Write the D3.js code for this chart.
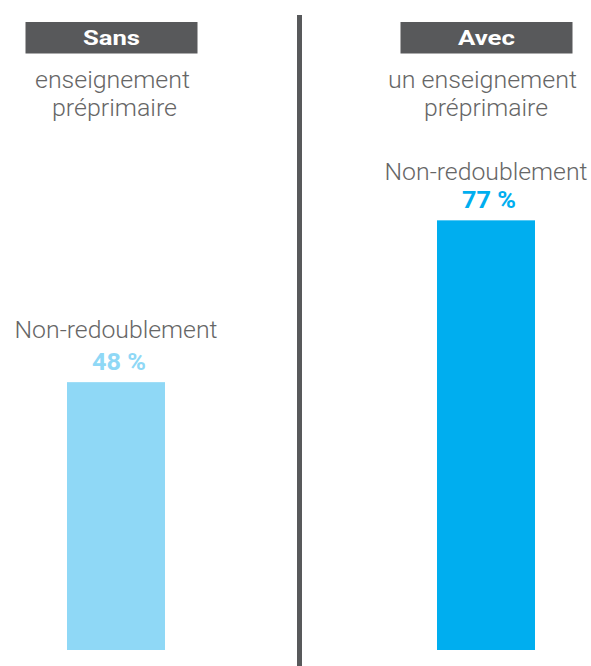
<!DOCTYPE html>
<html><head><meta charset="utf-8">
<script src="https://cdn.jsdelivr.net/npm/d3@7"></script>
<style>body{margin:0;background:#fff}svg{display:block}</style>
</head><body>
<script>
const groups = ["Sans", "Avec"];
const subtitles = [["enseignement", "préprimaire"], ["un enseignement", "préprimaire"]];
const labels = ["Non-redoublement", "Non-redoublement"];
const values = [48, 77];
const colors = ["#8fd8f6", "#00aeef"];

const W = 591, H = 666;
const svg = d3.select("body").append("svg").attr("width", W).attr("height", H);
const font = "Roboto, 'Liberation Sans', sans-serif";

// layout
const x = d3.scaleBand().domain(groups).range([-69, 671]);
const barW = 98;
const y = d3.scaleLinear().domain([0, 100]).range([650, 92]);
const headerCx = [111.5, 486.5];
const subCx = [[112.5, 114.5], [482.5, 486]];
const subW = [[155, 125], [189, 124]];
const labelGap = [44, 40];

function fitText(sel, w) {
  sel.attr("textLength", w).attr("lengthAdjust", "spacingAndGlyphs");
  return sel;
}

// divider
svg.append("rect").attr("x", 297).attr("y", 15).attr("width", 5).attr("height", H - 15).attr("fill", "#58595b");

groups.forEach((g, i) => {
  const cx = x(g) + x.bandwidth() / 2;
  const hc = headerCx[i];
  svg.append("rect").attr("x", hc - 86).attr("y", 22).attr("width", 172).attr("height", 31.5).attr("fill", "#58595b");
  fitText(svg.append("text").attr("x", hc).attr("y", 45).attr("text-anchor", "middle")
    .attr("font-family", font).attr("font-weight", 700).attr("font-size", 21).attr("fill", "#fff").text(g), 57);
  subtitles[i].forEach((s, j) => {
    fitText(svg.append("text").attr("x", subCx[i][j]).attr("y", 88 + j * 28).attr("text-anchor", "middle")
      .attr("font-family", font).attr("font-weight", 300).attr("font-size", 23).attr("fill", "#666").text(s), subW[i][j]);
  });
  const v = values[i];
  svg.append("rect").attr("x", cx - barW / 2).attr("y", y(v)).attr("width", barW).attr("height", y(0) - y(v)).attr("fill", colors[i]);
  fitText(svg.append("text").attr("x", cx + 3).attr("y", y(v) - 12).attr("text-anchor", "middle")
    .attr("font-family", font).attr("font-weight", 700).attr("font-size", 24).attr("fill", colors[i]).text(v + " %"), 54);
  fitText(svg.append("text").attr("x", cx).attr("y", y(v) - labelGap[i]).attr("text-anchor", "middle")
    .attr("font-family", font).attr("font-weight", 300).attr("font-size", 24).attr("fill", "#666").text(labels[i]), 203);
});
</script>
</body></html>
